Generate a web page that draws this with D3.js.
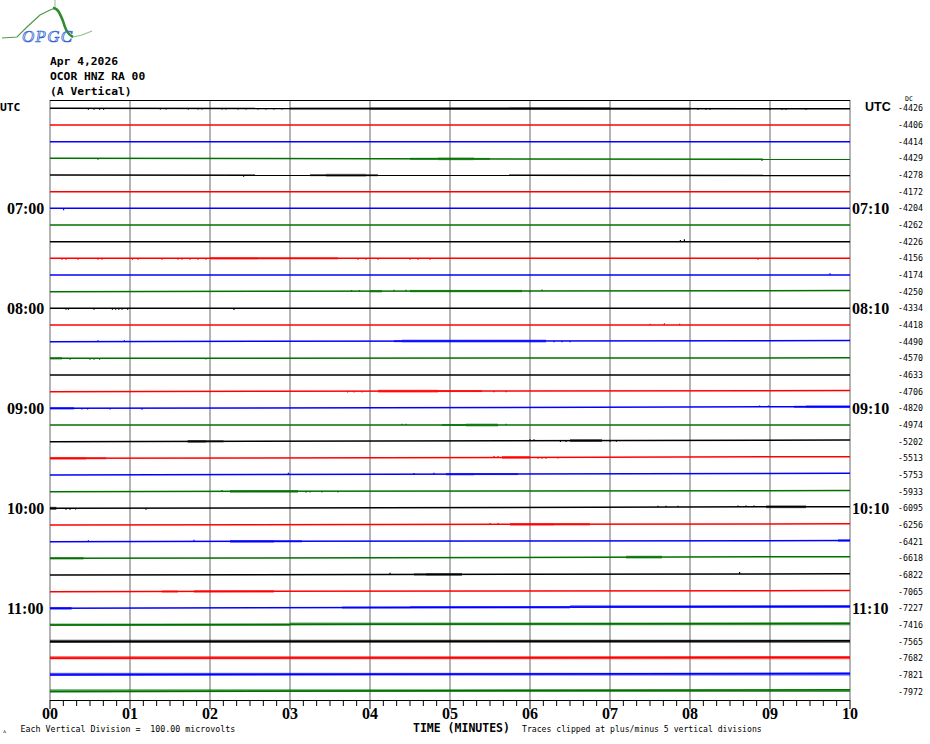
<!DOCTYPE html>
<html><head><meta charset="utf-8">
<script src="https://cdn.jsdelivr.net/npm/d3@7"></script>
<style>body{margin:0;background:#fff}svg{display:block}</style>
</head><body>
<script>
// ---------------- DATA ----------------
const titleLines = ["Apr 4,2026", "OCOR HNZ RA 00", "(A Vertical)"];
const nTraces = 36;
const minuteLabels = ["00","01","02","03","04","05","06","07","08","09","10"];
const leftHourRows = [6, 12, 18, 24, 30];
const leftHourLabels = ["07:00","08:00","09:00","10:00","11:00"];
const rightHourLabels = ["07:10","08:10","09:10","10:10","11:10"];
const dcValues = [-4426,-4406,-4414,-4429,-4278,-4172,-4204,-4262,-4226,-4156,-4174,-4250,
  -4334,-4418,-4490,-4570,-4633,-4706,-4820,-4974,-5202,-5513,-5753,-5933,
  -6095,-6256,-6421,-6618,-6822,-7065,-7227,-7416,-7565,-7682,-7821,-7972];
// baseline drift at end of each 10-min trace (microvolts, + = up)
const driftUV = [-3,0,0,-6,-3,0,0,0,0,0,0,7,0,0,7,3,0,7,
  10,0,10,10,10,7,10,7,7,10,7,7,12,10,5,7,10,12];
// dense noise bursts: [trace, startMin, endMin, halfAmplitude µV]
const bursts = [
  [0,3.0,4.0,6],[0,4.0,7.0,8],[0,7.0,8.0,6],
  [3,4.5,4.85,6],[3,4.85,5.3,8],[3,5.3,5.5,6],
  [4,3.25,3.45,6],[4,3.45,3.95,8],[4,3.95,4.1,6],
  [9,2.0,2.6,7],[9,2.6,3.6,6],
  [11,4.0,4.15,7],[11,4.5,5.9,7],
  [14,4.3,4.4,6],[14,4.4,6.2,8],
  [15,0,0.15,7],
  [17,4.1,4.85,8],[17,4.85,5.4,6],
  [18,0,0.3,7],[18,9.3,9.45,6],[18,9.45,10,8],
  [19,4.9,5.2,6],[19,5.2,5.6,8],
  [20,1.72,1.95,8],[20,1.95,2.17,6],[20,6.5,6.9,8],
  [21,0,0.45,8],[21,0.45,0.7,6],[21,5.65,6.0,8],
  [22,4.95,5.3,7],[22,5.3,5.85,6],
  [23,2.25,3.1,8],
  [24,0,0.08,9],[24,8.95,9.45,8],
  [25,5.75,6.3,8],[25,6.3,6.75,7],
  [26,2.25,2.8,8],[26,2.8,3.15,6],[26,9.85,10,7],
  [27,0,0.42,7],[27,7.2,7.65,8],
  [28,4.55,4.7,6],[28,4.7,5.15,8],
  [29,1.4,1.6,6],[29,1.8,2.8,7],
  [30,0,0.27,8],[30,3.65,4.5,6],[30,4.5,6.5,7],[30,6.5,10,8],
  [31,0,3,7],[31,3,10,8],
  [32,0,10,9],[33,0,10,9],[34,0,10,8],[35,0,10,8]
];
// isolated spikes: [trace, minute, amplitude µV]
const spikes = [
  [0,0.48,-8],[0,0.55,-8],[0,0.62,-8],[0,0.67,-8],
  [0,1.38,-6],[0,1.45,-6],[0,1.73,-6],[0,1.85,-6],[0,1.9,-6],[0,2.15,-6],[0,2.2,-6],
  [0,2.35,-6],[0,2.45,-6],[0,2.6,-6],[0,2.7,-6],[0,2.8,-6],[0,2.9,-6],
  [0,8.1,-6],[0,8.2,-6],[0,8.25,-6],[0,9.0,-6],[0,9.15,-6],[0,9.2,-6],[0,9.45,-6],
  [3,0.6,-8],[3,8.9,-10],
  [4,2.42,-10],
  [6,0.17,-12],
  [8,7.88,10],[8,7.93,15],
  [9,0.15,-8],[9,0.2,-8],[9,0.35,-8],[9,0.6,-8],[9,0.65,-8],
  [9,1.03,-8],[9,1.1,-8],[9,1.4,-8],[9,1.6,-8],[9,1.65,-8],[9,1.75,-8],[9,1.85,-8],[9,1.95,-8],
  [9,3.85,-8],[9,3.95,-8],[9,4.1,-8],[9,4.5,-8],[9,4.6,-8],[9,4.75,-8],[9,8.85,-8],
  [10,9.75,10],
  [11,3.77,8],[11,3.87,8],[11,4.3,8],[11,4.45,8],[11,6.0,-8],[11,6.15,8],
  [12,0.2,-8],[12,0.23,-8],[12,0.55,-8],[12,0.78,-8],[12,0.82,-8],[12,0.86,-8],[12,0.9,-8],[12,0.97,-8],[12,2.3,-10],
  [13,7.5,8],[13,7.68,10],[13,7.87,8],
  [14,0.6,8],[14,0.93,8],[14,6.3,-8],[14,6.4,-8],[14,6.5,-8],
  [15,0.25,-8],[15,0.5,-8],[15,0.55,-8],[15,0.62,-8],[15,1.95,-8],
  [17,3.72,-8],[17,3.8,-8],[17,3.9,-8],[17,5.55,-8],[17,5.7,-8],
  [18,0.4,-8],[18,0.47,-8],[18,0.75,-8],[18,1.15,-10],[18,8.87,8],[18,8.98,8],
  [19,4.4,8],[19,4.45,8],[19,5.7,8],
  [20,6.0,8],[20,6.05,8],[20,6.38,-8],[20,6.45,-8],[20,7.0,-8],[20,7.08,-8],
  [21,5.55,8],[21,5.6,8],[21,6.1,-8],[21,6.15,-8],[21,6.2,-8],[21,6.35,-8],
  [22,2.98,10],[22,4.55,8],[22,4.8,8],
  [23,2.15,8],[23,3.2,-8],[23,3.25,-8],[23,3.4,-8],[23,3.6,-8],
  [24,0.2,-8],[24,0.25,-8],[24,0.32,-8],[24,1.2,-10],[24,7.6,8],[24,7.7,8],[24,7.85,8],
  [24,8.6,8],[24,8.7,8],[24,8.8,8],
  [25,5.5,8],[25,5.6,8],
  [26,0.48,8],[26,1.8,10],
  [28,4.25,10],[28,8.62,12]
];

// ---------------- LAYOUT ----------------
const W = 930, H = 744;
const pLeft = 50, pRight = 850, pTop = 100, pBottom = 700;
const traceColors = ["#000000", "#ff0000", "#0000ff", "#007000"];
const svg = d3.select("body").append("svg").attr("width", W).attr("height", H);

const x = d3.scaleLinear().domain([0, 10]).range([pLeft, pRight]);
const row = d3.scaleBand().domain(d3.range(nTraces)).range([pTop, pBottom]);
const rowY = i => row(i) + row.bandwidth() / 2;
const uv = d3.scaleLinear().domain([0, 100]).range([0, row.bandwidth()]); // 1 division = 100 µV
const baseAt = (i, t) => rowY(i) - uv(driftUV[i] * t / 10);

// ---- logo ----
const logo = svg.append("g");
logo.append("path").attr("d", "M2,38 L17,37 L27,27 L40,15 L50,10 L55,8")
  .attr("fill", "none").attr("stroke", "#4f9a4f").attr("stroke-width", 1.2);
logo.append("path").attr("d", "M55,0 L55,9").attr("stroke", "#8cc08c").attr("stroke-width", 1);
logo.append("path").attr("d", "M53,8 C58,8 60,14 63,21 C65,28 67,34 73,37")
  .attr("fill", "none").attr("stroke", "#2e8b2e").attr("stroke-width", 2.6);
logo.append("path").attr("d", "M73,37 L82,35 L92,31")
  .attr("fill", "none").attr("stroke", "#8cc08c").attr("stroke-width", 1.2);
logo.append("text").attr("x", 22).attr("y", 42).text("OPGC")
  .attr("font-family", "Liberation Serif").attr("font-style", "italic").attr("font-size", 17)
  .attr("textLength", 50).attr("fill", "#d6e2fa").attr("stroke", "#2f62d0").attr("stroke-width", 0.7);

// ---- title ----
const mono = "DejaVu Sans Mono";
svg.append("g").selectAll("text").data(titleLines).join("text")
  .attr("x", 50).attr("y", (d, i) => 65 + i * 15)
  .attr("font-family", mono).attr("font-weight", "bold").attr("font-size", 11.3)
  .text(d => d);

// ---- grid ----
svg.append("g").selectAll("line").data(d3.range(0, 11)).join("line")
  .attr("x1", d => x(d)).attr("x2", d => x(d)).attr("y1", pTop).attr("y2", pBottom)
  .attr("stroke", "#808080").attr("stroke-width", 1.2);
svg.append("line").attr("x1", pLeft).attr("x2", pRight).attr("y1", pTop + 0.5).attr("y2", pTop + 0.5)
  .attr("stroke", "#000").attr("stroke-width", 1.2);

// ---- traces ----
const tr = svg.append("g");
const line = d3.line().x(d => x(d[0])).y(d => d[1]);
d3.range(nTraces).forEach(i => {
  const c = traceColors[i % 4];
  tr.append("path").attr("d", line([[0, baseAt(i, 0)], [10, baseAt(i, 10)]]))
    .attr("stroke", c).attr("stroke-width", 1.5).attr("fill", "none");
});
tr.selectAll("rect.b").data(bursts).join("rect").attr("class", "b")
  .attr("x", d => x(d[1])).attr("width", d => x(d[2]) - x(d[1]))
  .attr("y", d => baseAt(d[0], (d[1] + d[2]) / 2) - uv(d[3]))
  .attr("height", d => 2 * uv(d[3]))
  .attr("fill", d => traceColors[d[0] % 4]).attr("fill-opacity", 0.7);
tr.selectAll("line.s").data(spikes).join("line").attr("class", "s")
  .attr("x1", d => x(d[1])).attr("x2", d => x(d[1]))
  .attr("y1", d => baseAt(d[0], d[1])).attr("y2", d => baseAt(d[0], d[1]) - uv(d[2]))
  .attr("stroke", d => traceColors[d[0] % 4]).attr("stroke-width", 1.2);

// ---- x axis ----
svg.append("line").attr("x1", pLeft).attr("x2", pRight).attr("y1", pBottom + 0.5).attr("y2", pBottom + 0.5)
  .attr("stroke", "#000").attr("stroke-width", 1.2);
const minor = d3.range(0, 61).map(k => k / 6);
svg.append("g").selectAll("line").data(minor).join("line")
  .attr("x1", d => x(d)).attr("x2", d => x(d))
  .attr("y1", pBottom).attr("y2", (d, k) => k % 6 === 0 ? 709 : 706)
  .attr("stroke", "#000").attr("stroke-width", 1);
svg.append("g").selectAll("text").data(minuteLabels).join("text")
  .attr("x", (d, i) => x(i)).attr("y", 719).attr("text-anchor", "middle")
  .attr("font-family", "Liberation Serif").attr("font-weight", "bold").attr("font-size", 16)
  .text(d => d);

// ---- side labels ----
svg.append("text").attr("x", 0).attr("y", 111).text("UTC")
  .attr("font-family", mono).attr("font-weight", "bold").attr("font-size", 11.3);
svg.append("text").attr("x", 865).attr("y", 111).text("UTC")
  .attr("font-family", "Liberation Sans Narrow, Liberation Sans").attr("font-weight", "bold").attr("font-size", 12.5);
svg.append("text").attr("x", 905).attr("y", 101).text("DC")
  .attr("font-family", mono).attr("font-size", 6.5);
svg.append("g").selectAll("text").data(leftHourRows).join("text")
  .attr("x", 7).attr("y", d => rowY(d) + 5.5)
  .attr("font-family", "Liberation Serif").attr("font-weight", "bold").attr("font-size", 16)
  .text((d, i) => leftHourLabels[i]);
svg.append("g").selectAll("text").data(leftHourRows).join("text")
  .attr("x", 852).attr("y", d => rowY(d) + 5.5)
  .attr("font-family", "Liberation Serif").attr("font-weight", "bold").attr("font-size", 16)
  .text((d, i) => rightHourLabels[i]);
svg.append("g").selectAll("text").data(dcValues).join("text")
  .attr("x", 898).attr("y", (d, i) => rowY(i) + 3)
  .attr("font-family", mono).attr("font-size", 8.3)
  .text(d => "-" + Math.abs(d));

// ---- footer ----
svg.append("text").attr("x", 3).attr("y", 733).text("ᴧ")
  .attr("font-family", mono).attr("font-size", 6);
svg.append("text").attr("x", 20.5).attr("y", 732).text("Each Vertical Division =  100.00 microvolts")
  .attr("font-family", mono).attr("font-size", 8.3).style("white-space", "pre");
svg.append("text").attr("x", 413).attr("y", 732).text("TIME (MINUTES)")
  .attr("font-family", mono).attr("font-weight", "bold").attr("font-size", 11.5);
svg.append("text").attr("x", 522).attr("y", 732).text("Traces clipped at plus/minus 5 vertical divisions")
  .attr("font-family", mono).attr("font-size", 8.15);
</script>
</body></html>
